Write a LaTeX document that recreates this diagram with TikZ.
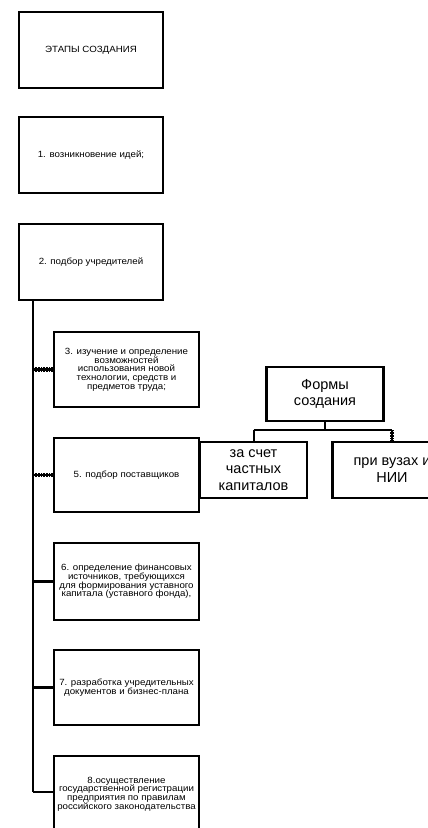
\documentclass[tikz,border=0pt]{standalone}
\usepackage{fontspec}
\setmainfont{Liberation Sans}
\newfontfamily\stagefont[FakeStretch=1.08]{Liberation Sans}
\begin{document}
\begin{tikzpicture}[x=1pt,y=-1pt,
  stagebox/.style={draw,line width=2.6pt,minimum width=144pt,minimum height=76pt,
    inner xsep=1pt,inner ysep=1pt,align=center,
    font=\stagefont\fontsize{9}{8.7}\selectfont},
  formbox/.style={draw,line width=2.4pt,align=center,inner sep=1pt,
    font=\fontsize{14.5}{16.5}\selectfont},
  link/.style={line width=2.4pt},
  hatched/.style={line width=2.4pt,postaction={draw,line width=4.5pt,dash pattern=on 0.6pt off 1pt}}
]
\useasboundingbox (0,0) rectangle (428,828);
\begin{scope}
\clip (0,0) rectangle (428,828);

% main column of stages
\node[stagebox] (s0) at (91,50) {ЭТАПЫ СОЗДАНИЯ};
\node[stagebox] (s1) at (91,155) {1. возникновение идей;};
\node[stagebox] (s2) at (91,262) {2. подбор учредителей};

% sub-stages hanging off the spine
\node[stagebox,minimum width=145pt,minimum height=75pt] (s3) at (126.5,369.5)
  {3. изучение и определение\\возможностей\\использования новой\\технологии, средств и\\предметов труда;};
\node[stagebox,minimum width=145pt,minimum height=74pt] (s5) at (126.5,475)
  {5. подбор поставщиков};
\node[stagebox,minimum width=145pt,minimum height=77pt] (s6) at (126.5,581.5)
  {6. определение финансовых\\источников, требующихся\\для формирования уставного\\капитала (уставного фонда),};
\node[stagebox,minimum width=145pt,minimum height=75pt] (s7) at (126.5,687.5)
  {7. разработка учредительных\\документов и бизнес-плана};
\node[stagebox,minimum width=145pt,minimum height=76pt] (s8) at (126.5,794)
  {8.осуществление\\государственной регистрации\\предприятия по правилам\\российского законодательства};

% spine and branches
\coordinate (top) at (s2.south -| 33,0);
\coordinate (bot) at (33,792);
\draw[link] (top) -- (bot);
\draw[hatched] (s3.west -| top) -- (s3.west);
\draw[hatched] (s5.west -| top) -- (s5.west);
\draw[link] (s6.west -| top) -- (s6.west);
\draw[link] (s7.west -| top) -- (s7.west);
\draw[link] (bot) -- (bot -| s8.west);

% forms of creation
\node[formbox,minimum width=117pt,minimum height=54pt] (f0) at (325,394) {Формы\\создания};
\node[formbox,line width=2.2pt,minimum width=107pt,minimum height=56pt] (f1) at (253.5,470) {за счет\\частных\\капиталов};
\node[formbox,line width=2.2pt,minimum width=119pt,minimum height=56pt] (f2) at (392,470) {при вузах и\\НИИ};
\coordinate (fj) at (325,430);
\draw[link,line width=2pt] (f0.south) -- (fj);
\draw[link,line width=2pt] (fj -| f1.north) -- (fj -| f2.north);
\draw[link,line width=2pt] (fj -| f1.north) -- (f1.north);
\draw[hatched,line width=2pt] (fj -| f2.north) -- (f2.north);
\end{scope}
\end{tikzpicture}
\end{document}
